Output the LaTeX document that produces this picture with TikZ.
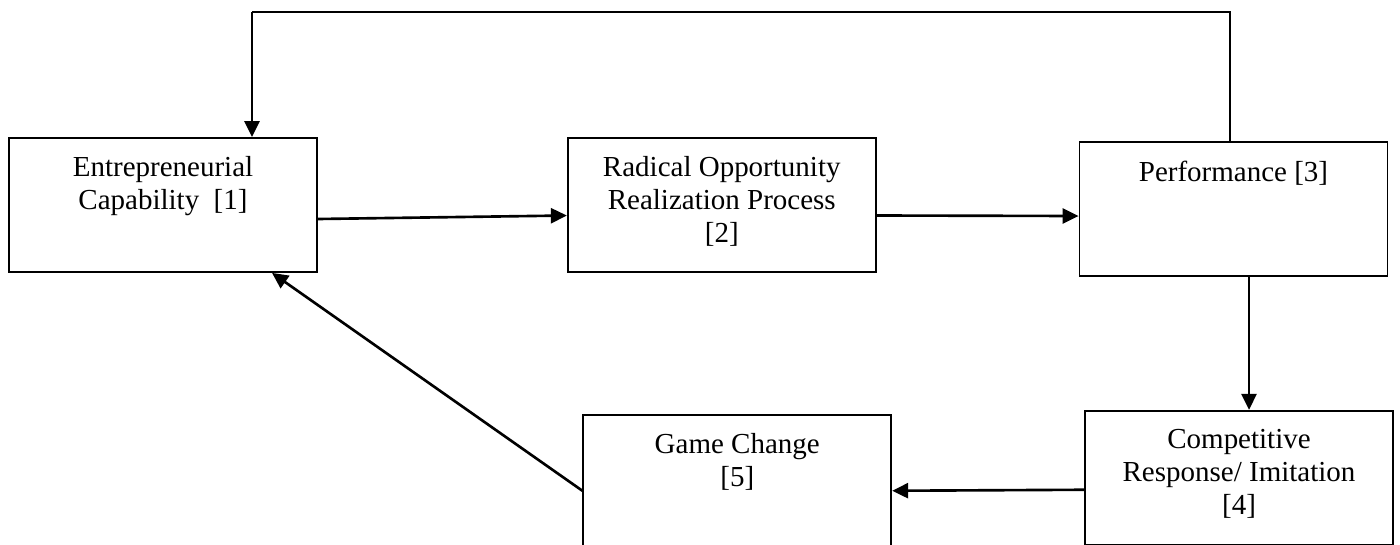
\documentclass[tikz,border=0pt]{standalone}
\usepackage{fontspec}
\setmainfont{Liberation Serif}
\usetikzlibrary{positioning,arrows.meta}

\begin{document}
\begin{tikzpicture}[
    stagebox/.style={rectangle, draw=black, line width=1pt, minimum width=6.16cm, minimum height=2.68cm, inner sep=0pt},
    boxtext/.style={anchor=north, align=center, inner sep=0pt, yshift=-11pt, font=\fontsize{16.5}{18.7}\selectfont},
    arrow/.style={-{Triangle[length=0.32cm,width=0.30cm]}, line width=1.5pt}
]
\useasboundingbox (0,0) rectangle (28,-10.88);

% Top row
\node (ec) [stagebox, label={[boxtext]north:Entrepreneurial\\Capability~ [1]}] at (3.26,-4.10) {};
\node (rorp) [stagebox, right=4.98cm of ec, label={[boxtext]north:Radical Opportunity\\Realization Process\\{[2]}}] {};
\node (perf) [stagebox, right=4.04cm of rorp, yshift=-0.08cm, label={[boxtext]north:Performance [3]}] {};

% Bottom row
\node (resp) [stagebox, below=2.66cm of perf, xshift=0.11cm, label={[boxtext]north:Competitive\\Response/ Imitation\\{[4]}}] {};
\node (gc) [stagebox, left=3.84cm of resp, yshift=-0.08cm, label={[boxtext]north:Game Change\\{[5]}}] {};

% Arrows
\draw[arrow] ([yshift=-0.28cm]ec.east) -- ([yshift=-0.21cm]rorp.west);
\draw[arrow] ([yshift=-0.21cm]rorp.east) -- ([yshift=-0.14cm]perf.west);
\draw[arrow] ([xshift=0.31cm]perf.south) -- ([xshift=0.31cm]perf.south |- resp.north);
\draw[arrow] ([yshift=-0.24cm]resp.west) -- ([yshift=-0.18cm]gc.east);
\draw[arrow] ([yshift=-0.18cm]gc.west) -- ([xshift=2.18cm]ec.south);

% Feedback loop
\coordinate (loop) at (5.04,-0.24);
\draw[line width=1pt] ([xshift=-0.07cm]perf.north) |- (loop);
\draw[arrow] (loop) -- (loop |- ec.north);

\end{tikzpicture}
\end{document}
